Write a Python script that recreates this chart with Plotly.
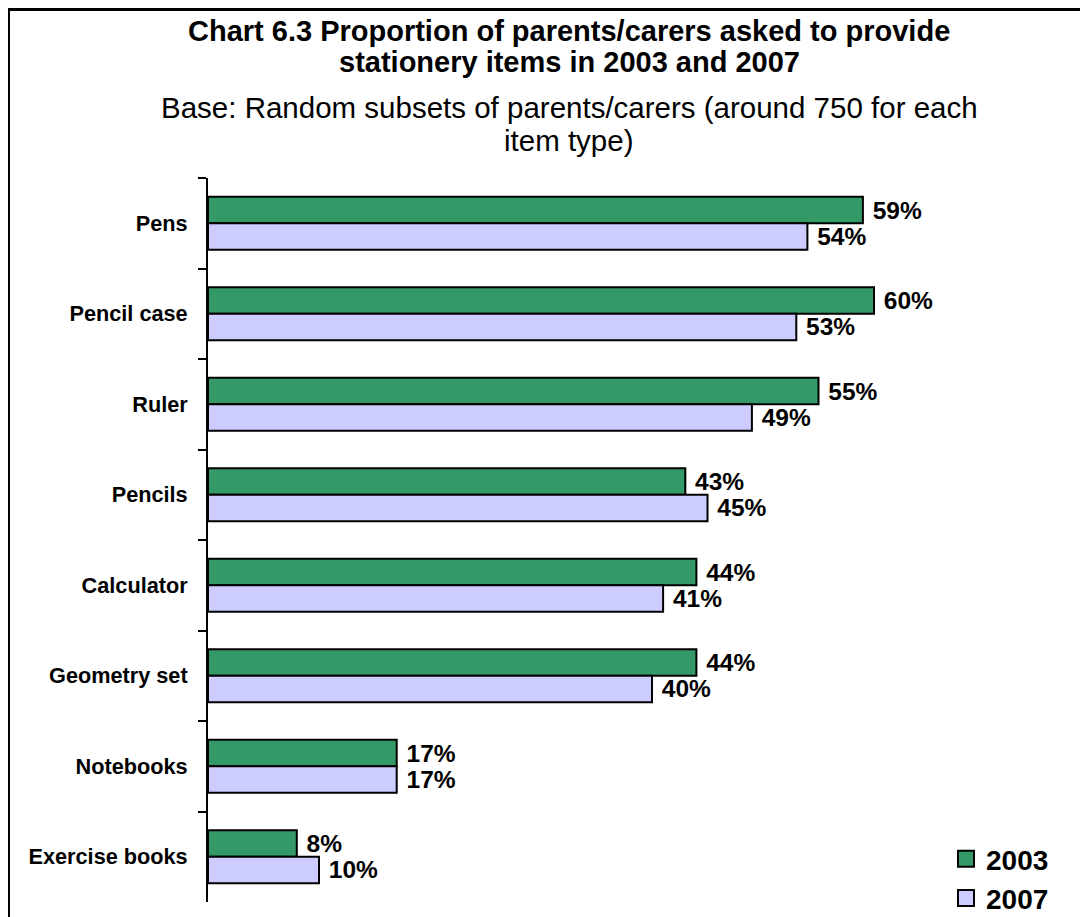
import plotly.graph_objects as go

categories = ["Pens", "Pencil case", "Ruler", "Pencils", "Calculator",
              "Geometry set", "Notebooks", "Exercise books"]
values_2003 = [59, 60, 55, 43, 44, 44, 17, 8]
values_2007 = [54, 53, 49, 45, 41, 40, 17, 10]
series_names = ["2003", "2007"]
series_colors = ["#339966", "#CCCCFF"]

FONT = "Arial, Liberation Sans, sans-serif"
OFF = 8  # page body margin
W, H = 1088 - OFF, 917 - OFF
# plot area in page pixels: x 208..985, y 178..902
ML, MT = 208 - OFF, 178 - OFF
MR, MB = W - (985 - OFF), H - (902 - OFF)
PW, PH = W - ML - MR, H - MT - MB


def px_x(x):
    return (x - OFF - ML) / PW


def px_y(y):
    return (H - MB - (y - OFF)) / PH


fig = go.Figure()
for name, vals, color in zip(series_names, [values_2003, values_2007], series_colors):
    fig.add_trace(go.Bar(
        name=name, y=categories, x=vals, orientation="h",
        marker=dict(color=color, line=dict(color="black", width=2)),
        texttemplate=" %{x}%", textposition="outside", constraintext="none",
        textfont=dict(family=FONT, size=24.5, color="black", weight="bold"),
        cliponaxis=False, showlegend=False,
    ))
# legend entries (square swatches)
for name, color in zip(series_names, series_colors):
    fig.add_trace(go.Scatter(
        name=name, x=[None], y=[None], mode="markers",
        marker=dict(symbol="square", size=16, color=color,
                    line=dict(color="black", width=2)),
        showlegend=True,
    ))

fig.update_layout(
    width=W, height=H,
    margin=dict(l=ML, r=MR, t=MT, b=MB, autoexpand=False),
    paper_bgcolor="white", plot_bgcolor="white",
    barmode="group", bargap=0.415, bargroupgap=0,
    font=dict(family=FONT, color="black"),
    showlegend=True,
    legend=dict(x=px_x(946), y=px_y(834), xanchor="left", yanchor="top",
                traceorder="normal",
                font=dict(family=FONT, size=28, color="black", weight="bold"),
                bgcolor="rgba(0,0,0,0)"),
    xaxis=dict(visible=False, range=[0, 70]),
    yaxis=dict(autorange="reversed", showline=True, linecolor="black", linewidth=2,
               ticks="outside", tickson="boundaries", ticklen=8, tickwidth=2,
               tickcolor="black", showgrid=False, ticklabelstandoff=14, automargin=False,
               tickfont=dict(family=FONT, size=21.7, color="black", weight="bold")),
)

title_lines = [
    ("Chart 6.3 Proportion of parents/carers asked to provide", 31, "bold", 29),
    ("stationery items in 2003 and 2007", 62, "bold", 29),
    ("Base: Random subsets of parents/carers (around 750 for each", 108, "normal", 29.5),
    ("item type)", 140, "normal", 29.5),
]
for text, ypx, weight, size in title_lines:
    fig.add_annotation(text=text, xref="paper", yref="paper",
                       x=px_x(569), y=px_y(ypx), xanchor="center", yanchor="middle",
                       showarrow=False,
                       font=dict(family=FONT, size=size, color="black", weight=weight))

# chart frame (top and left edges visible in the reference)
fig.add_shape(type="line", xref="paper", yref="paper",
              x0=px_x(9), x1=px_x(1100), y0=px_y(9.5), y1=px_y(9.5),
              line=dict(color="black", width=3))
fig.add_shape(type="line", xref="paper", yref="paper",
              x0=px_x(9), x1=px_x(9), y0=px_y(8), y1=px_y(930),
              line=dict(color="black", width=2))

fig.write_html("out.html")
